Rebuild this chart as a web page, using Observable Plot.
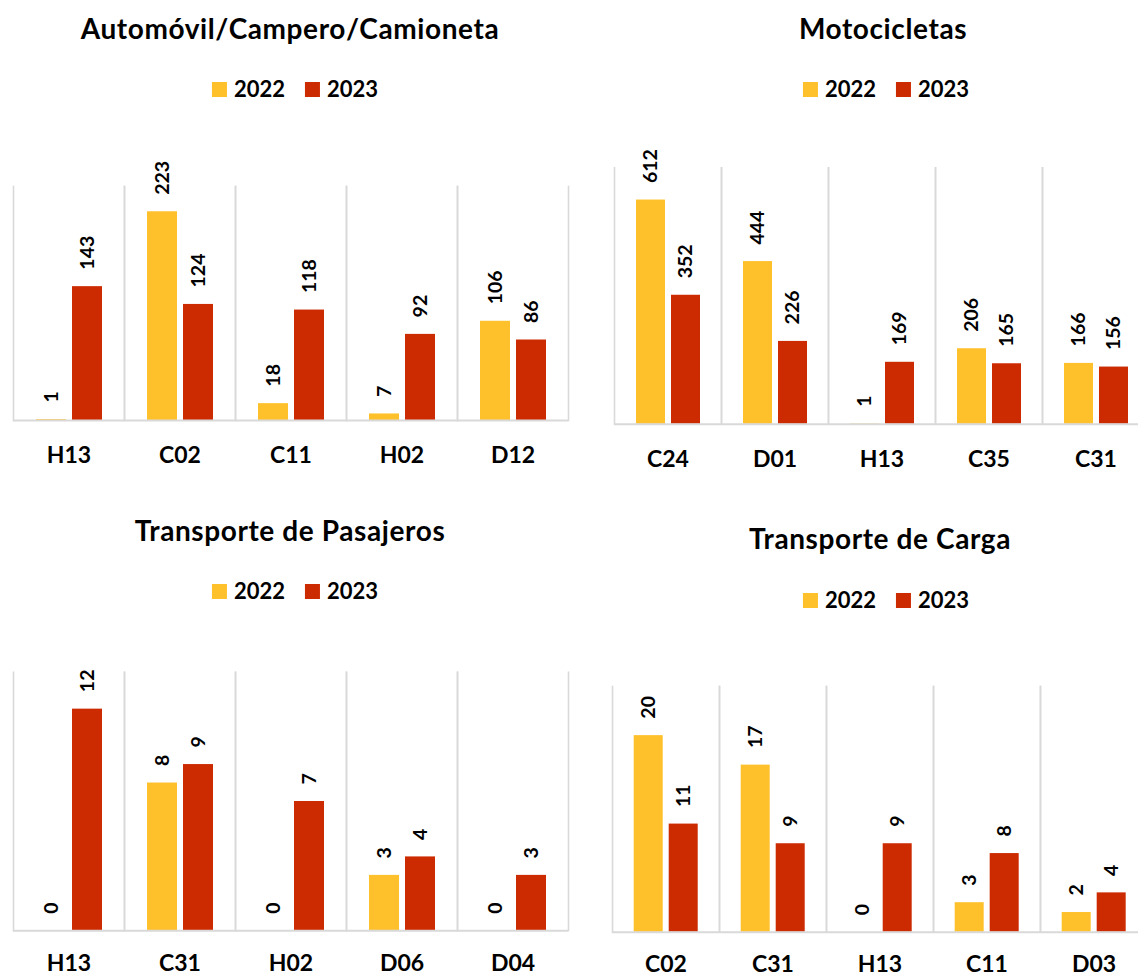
<!DOCTYPE html>
<html>
<head>
<meta charset="utf-8">
<script src="https://cdn.jsdelivr.net/npm/d3@7"></script>
<script src="https://cdn.jsdelivr.net/npm/@observablehq/plot@0.6"></script>
<style>
  html, body { margin: 0; padding: 0; background: #fff; overflow: hidden; }
  #root { position: relative; width: 1138px; height: 977px; overflow: hidden; font-family: Lato, "Open Sans", sans-serif; color: #000; }
  .title { position: absolute; transform: translate(-50%, -50%); white-space: nowrap; font-weight: 700; font-size: 28px; letter-spacing: 0.6px; line-height: 1; }
  .legend { position: absolute; transform: translate(-50%, -50%); display: flex; align-items: center; white-space: nowrap; font-weight: 700; font-size: 22px; line-height: 1; }
  .legend .sw { width: 15px; height: 15px; margin-right: 7px; }
  .legend .item { display: flex; align-items: center; margin-right: 20px; }
  .legend .item:last-child { margin-right: 0; }
  .chart { position: absolute; }
</style>
</head>
<body>
<div id="root"></div>
<script>
// ---- data ----
const years = ["2022", "2023"];
const yearColors = ["#FFC12B", "#CC2A00"];

const autoTitle = "Automóvil/Campero/Camioneta";
const autoCats = ["H13", "C02", "C11", "H02", "D12"];
const auto2022 = [1, 223, 18, 7, 106];
const auto2023 = [143, 124, 118, 92, 86];

const motoTitle = "Motocicletas";
const motoCats = ["C24", "D01", "H13", "C35", "C31"];
const moto2022 = [612, 444, 1, 206, 166];
const moto2023 = [352, 226, 169, 165, 156];

const pasTitle = "Transporte de Pasajeros";
const pasCats = ["H13", "C31", "H02", "D06", "D04"];
const pas2022 = [0, 8, 0, 3, 0];
const pas2023 = [12, 9, 7, 4, 3];

const cargaTitle = "Transporte de Carga";
const cargaCats = ["C02", "C31", "H13", "C11", "D03"];
const carga2022 = [20, 17, 0, 3, 2];
const carga2023 = [11, 9, 9, 8, 4];

const yMaxes = [250, 700, 14, 25];

// ---- layout ----
const root = document.getElementById("root");

function addTitle(text, cx, cy) {
  const d = document.createElement("div");
  d.className = "title";
  d.textContent = text;
  d.style.left = cx + "px";
  d.style.top = cy + "px";
  root.appendChild(d);
}

function addLegend(cx, cy) {
  const d = document.createElement("div");
  d.className = "legend";
  d.style.left = cx + "px";
  d.style.top = cy + "px";
  years.forEach((y, i) => {
    const it = document.createElement("div");
    it.className = "item";
    const sw = document.createElement("div");
    sw.className = "sw";
    sw.style.background = yearColors[i];
    const t = document.createElement("span");
    t.textContent = y;
    it.appendChild(sw);
    it.appendChild(t);
    d.appendChild(it);
  });
  root.appendChild(d);
}

function panel(cats, v22, v23, ymax, box) {
  const data = cats.flatMap((c, i) => [
    {cat: c, year: years[0], value: v22[i]},
    {cat: c, year: years[1], value: v23[i]}
  ]);
  const chart = Plot.plot({
    width: box.width,
    height: box.height,
    marginLeft: box.ml,
    marginRight: box.mr,
    marginTop: box.mt,
    marginBottom: box.mb,
    style: {fontFamily: "Lato, 'Open Sans', sans-serif", fontWeight: "700", fontSize: "23px", color: "#000", background: "transparent", overflow: "visible"},
    facet: {data, x: "cat"},
    fx: {domain: cats, padding: 0, axis: "bottom", tickSize: 0, tickPadding: box.tp, label: null},
    x: {domain: years, paddingInner: 0.18, paddingOuter: 0.6, axis: null},
    y: {domain: [0, ymax], axis: null},
    color: {domain: years, range: yearColors},
    marks: [
      Plot.frame({anchor: "left", stroke: "#d9d9d9", strokeWidth: 1.6}),
      Plot.frame({anchor: "right", stroke: "#d9d9d9", strokeWidth: 1.6}),
      Plot.barY(data, {x: "year", y: "value", fill: "year"}),
      Plot.text(data, {x: "year", y: "value", text: d => String(d.value), rotate: -90, textAnchor: "start", dy: -17, fontSize: 19.5, fontWeight: 700, fill: "#000"}),
      Plot.ruleY([0], {stroke: "#d9d9d9", strokeWidth: 2})
    ]
  });
  chart.classList.add("chart");
  chart.style.left = box.left + "px";
  chart.style.top = box.top + "px";
  root.appendChild(chart);
}

// Panel 1
addTitle(autoTitle, 290, 28);
addLegend(295, 89);
panel(autoCats, auto2022, auto2023, yMaxes[0], {left: 0, top: 150, width: 580, height: 330, ml: 12, mr: 10.5, mt: 36, mb: 60, tp: 26});

// Panel 2
addTitle(motoTitle, 883, 28);
addLegend(886, 89);
panel(motoCats, moto2022, moto2023, yMaxes[1], {left: 580, top: 130, width: 579, height: 354, ml: 34, mr: 10, mt: 37.3, mb: 60.3, tp: 26});

// Panel 3
addTitle(pasTitle, 290, 530);
addLegend(295, 591);
panel(pasCats, pas2022, pas2023, yMaxes[2], {left: 0, top: 640, width: 580, height: 340, ml: 11, mr: 11, mt: 31.7, mb: 49.7, tp: 24});

// Panel 4
addTitle(cargaTitle, 880, 538);
addLegend(886, 600);
panel(cargaCats, carga2022, carga2023, yMaxes[3], {left: 580, top: 650, width: 577.3, height: 330, ml: 32.3, mr: 10, mt: 36, mb: 48.3, tp: 23});
</script>
</body>
</html>
